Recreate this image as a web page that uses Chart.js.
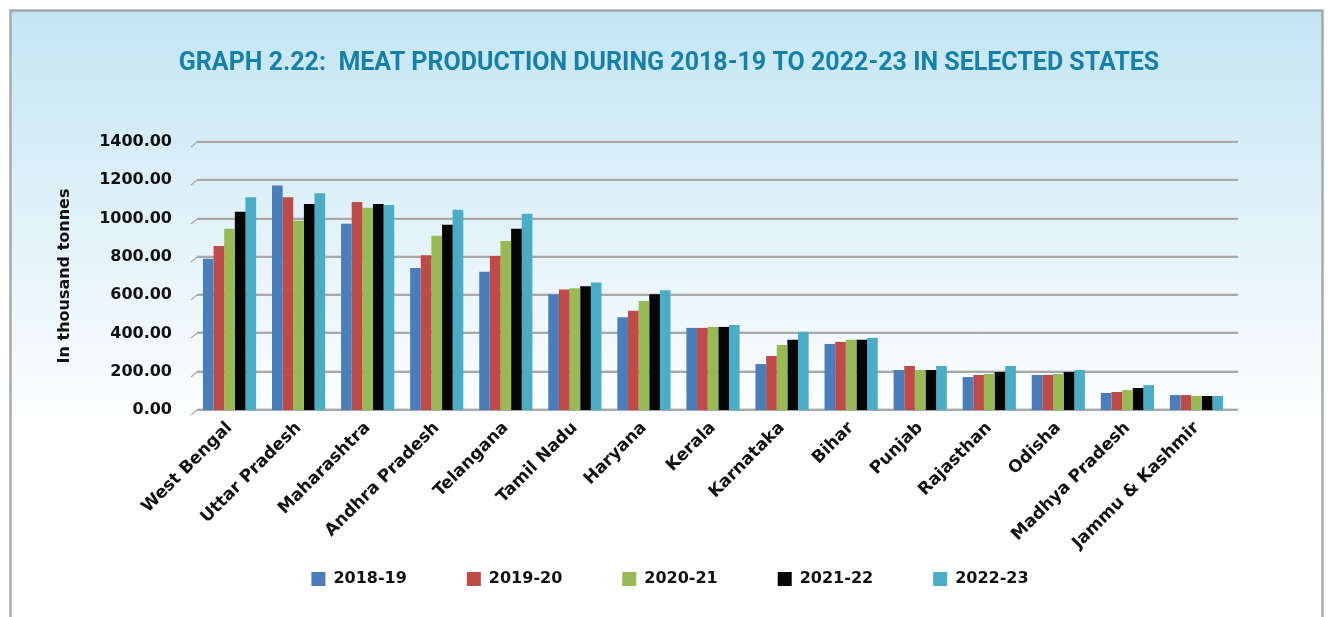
<!DOCTYPE html>
<html>
<head>
<meta charset="utf-8">
<script src="https://cdn.jsdelivr.net/npm/chart.js@4.4.1/dist/chart.umd.min.js"></script>
<style>
html,body{margin:0;padding:0;background:#fff;}
canvas{display:block;}
</style>
</head>
<body>
<canvas id="c" width="1330" height="617"></canvas>
<script>
const states = ["West Bengal","Uttar Pradesh","Maharashtra","Andhra Pradesh","Telangana","Tamil Nadu","Haryana","Kerala","Karnataka","Bihar","Punjab","Rajasthan","Odisha","Madhya Pradesh","Jammu & Kashmir"];
const years = ["2018-19","2019-20","2020-21","2021-22","2022-23"];
const y2018_19 = [790,1173,973,742,722,605,484,429,240,345,209,172,183,89,78];
const y2019_20 = [857,1112,1086,809,804,630,519,429,282,356,230,183,183,94,78];
const y2020_21 = [947,989,1056,910,883,636,570,434,340,367,209,188,188,104,73];
const y2021_22 = [1036,1076,1076,968,947,646,605,434,367,367,209,198,198,115,73];
const y2022_23 = [1112,1132,1071,1046,1025,666,625,444,408,377,230,230,209,130,73];
const seriesValues = [y2018_19,y2019_20,y2020_21,y2021_22,y2022_23];
const colors = ["#4a7ebb","#be4b48","#98b954","#050505","#4bacc6"];
const yTicks = [0,200,400,600,800,1000,1200,1400];

const TFONT = "Roboto";
const FONT = "DejaVu Sans";

const frame = {
  id:'frame',
  afterLayout(chart){
    const lg = chart.legend;
    if (lg) { lg.left += 27; lg.right += 27; lg.top -= 49; lg.height = lg.bottom - lg.top; }
    const tb = chart.titleBlock;
    if (tb) { tb.left += 26; tb.right += 26; }
  },
  beforeDraw(chart){
    const ctx = chart.ctx;
    ctx.save();
    const g = ctx.createLinearGradient(0,10,0,430);
    g.addColorStop(0,'#c3e5f3');
    g.addColorStop(0.55,'#e4f3f9');
    g.addColorStop(1,'#ffffff');
    ctx.fillStyle = '#ffffff';
    ctx.fillRect(0,0,chart.width,chart.height);
    ctx.fillStyle = g;
    ctx.fillRect(10,10,1312,620);
    ctx.strokeStyle = '#a9a9a9';
    ctx.lineWidth = 2.5;
    ctx.beginPath();
    ctx.moveTo(10.5,640);ctx.lineTo(10.5,10.5);ctx.lineTo(1322.5,10.5);ctx.lineTo(1322.5,640);
    ctx.stroke();
    ctx.restore();
  },
  beforeDatasetsDraw(chart){
    const ctx = chart.ctx, ys = chart.scales.y, a = chart.chartArea;
    ctx.save();
    yTicks.forEach(v=>{
      const y = Math.round(ys.getPixelForValue(v));
      ctx.strokeStyle = '#dcdcdc';
      ctx.lineWidth = 1;
      ctx.beginPath();ctx.moveTo(a.left+2,y-1.5);ctx.lineTo(a.right+7,y-1.5);ctx.stroke();
      ctx.strokeStyle = '#a8a9ad';
      ctx.lineWidth = 2;
      ctx.beginPath();ctx.moveTo(a.left+2,y);ctx.lineTo(a.right+7,y);ctx.stroke();
      ctx.lineWidth = 1.2;
      ctx.beginPath();ctx.moveTo(a.left-4,y+5);ctx.lineTo(a.left+2,y);ctx.stroke();
    });
    ctx.restore();
  }
};

new Chart(document.getElementById('c'),{
  type:'bar',
  data:{
    labels:states,
    datasets:years.map((y,i)=>({
      label:y,
      data:seriesValues[i],
      backgroundColor:colors[i],
      borderWidth:0,
      categoryPercentage:0.77,
      barPercentage:1.0
    }))
  },
  options:{
    responsive:false,
    animation:false,
    layout:{padding:{left:55,right:99,top:0,bottom:17}},
    plugins:{
      title:{
        display:true,
        text:"GRAPH 2.22:  MEAT PRODUCTION DURING 2018-19 TO 2022-23 IN SELECTED STATES",
        color:'#1580a9',
        font:{family:TFONT,size:25,weight:'bold',lineHeight:1.2},
        padding:{top:49,bottom:63}
      },
      legend:{
        position:'bottom',
        maxHeight:40,
        labels:{
          boxWidth:14,boxHeight:14,padding:60,
          color:'#111',
          font:{family:FONT,size:16,weight:'bold'}
        }
      },
      tooltip:{enabled:false}
    },
    scales:{
      x:{
        grid:{display:false,drawTicks:false},
        border:{display:false},
        ticks:{
          color:'#111',
          maxRotation:45,minRotation:45,
          padding:8,
          autoSkip:false,
          font:{family:FONT,size:17,weight:'bold'}
        },
        afterFit(scale){ scale.height = 150; }
      },
      y:{
        min:0,max:1400,
        grid:{display:false,drawTicks:false},
        border:{display:false},
        afterFit(scale){ scale.width = 140; },
        ticks:{
          stepSize:200,
          padding:23,
          color:'#111',
          font:{family:FONT,size:16,weight:'bold'},
          callback:(v)=>Number(v).toFixed(2)
        },
        title:{
          display:true,
          text:'In thousand tonnes',
          color:'#111',
          padding:0,
          font:{family:FONT,size:16,weight:'bold'}
        }
      }
    }
  },
  plugins:[frame]
});
</script>
</body>
</html>
